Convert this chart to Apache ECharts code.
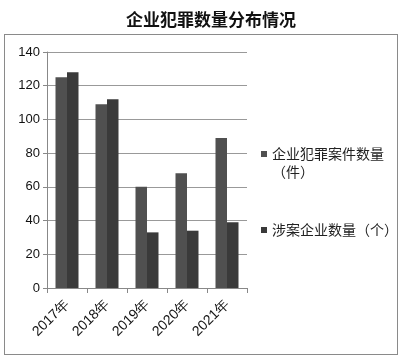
<!DOCTYPE html>
<html><head><meta charset="utf-8">
<script src="https://cdn.jsdelivr.net/npm/echarts@6/dist/echarts.min.js"></script>
<style>html,body{margin:0;padding:0;background:#fff}#c{width:400px;height:358px;position:relative}
#frame{position:absolute;left:4px;top:34px;width:392px;height:319px;border:1px solid #8a8a8a;pointer-events:none}</style>
</head><body><div id="c"></div>
<script>
const categories = ['2017年','2018年','2019年','2020年','2021年'];
const crimeCases = [125, 109, 60, 68, 89];
const companies = [128, 112, 33, 34, 39];
const yTicks = {min: 0, max: 140, interval: 20};
const seriesNames = ['企业犯罪案件数量\n（件）', '涉案企业数量（个）'];

const el = document.getElementById('c');
const frame = document.createElement('div'); frame.id = 'frame';
const chart = echarts.init(el);
el.appendChild(frame);
chart.setOption({
  animation: false,
  title: {text: '企业犯罪数量分布情况', left: 121, top: 6,
    textStyle: {fontFamily: 'Noto Sans CJK SC', fontSize: 17, fontWeight: 'bold', color: '#111'}},
  legend: {orient: 'vertical', left: 261, top: 127, padding: 0, itemGap: 40,
    itemWidth: 6, itemHeight: 6, icon: 'rect',
    formatter: function(n){ return n.indexOf('\n') >= 0 ? '\u3000\n' + n : n; },
    textStyle: {fontFamily: 'Noto Sans CJK SC', fontSize: 14, lineHeight: 18, color: '#222'},
    data: seriesNames},
  grid: {left: 47, right: 153, top: 52, bottom: 70},
  xAxis: {type: 'category', data: categories,
    axisLine: {lineStyle: {color: '#888', width: 1}},
    axisTick: {show: true, length: 5, lineStyle: {color: '#888'}},
    axisLabel: {rotate: 45, margin: 14, color: '#111', fontFamily: 'Liberation Sans', fontSize: 14}},
  yAxis: {type: 'value', min: yTicks.min, max: yTicks.max, interval: yTicks.interval,
    axisLine: {show: true, lineStyle: {color: '#888', width: 1}},
    axisTick: {show: true, length: 4, lineStyle: {color: '#888'}},
    axisLabel: {margin: 7, color: '#111', fontFamily: 'Liberation Sans', fontSize: 13},
    splitLine: {lineStyle: {color: '#999', width: 1}}},
  series: [
    {name: seriesNames[0], type: 'bar', data: crimeCases, barWidth: 11.5, barGap: '0%',
      itemStyle: {color: '#505050'}},
    {name: seriesNames[1], type: 'bar', data: companies, barWidth: 11.5, barGap: '0%',
      itemStyle: {color: '#3a3a3a'}}
  ]
});
</script></body></html>
